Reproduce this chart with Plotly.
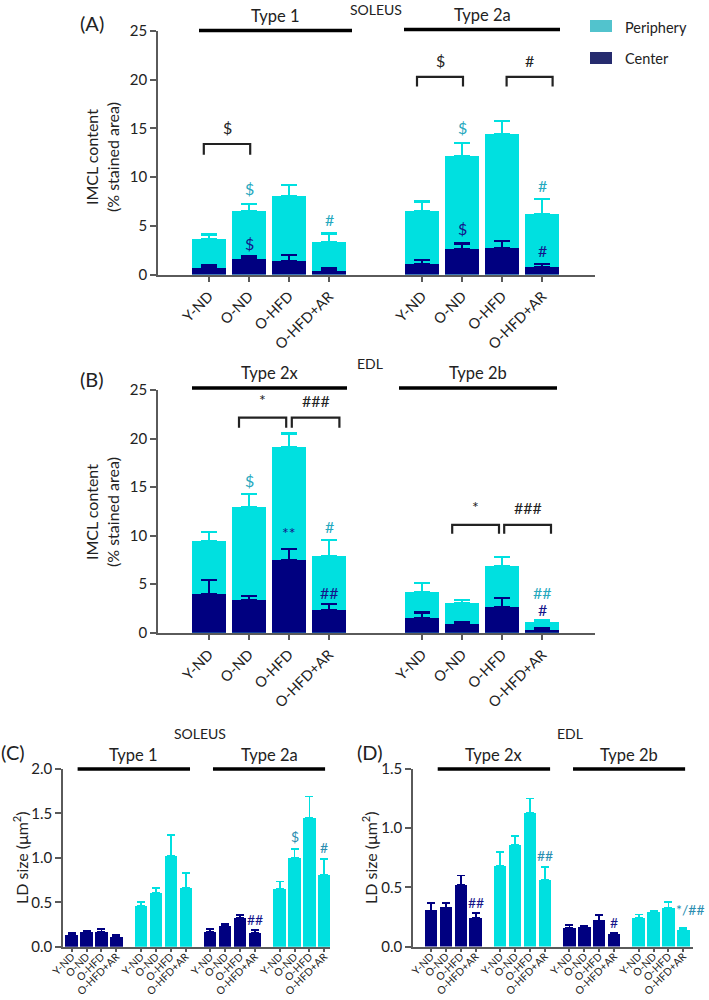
import plotly.graph_objects as go

W, H = 709, 1000
FONT = "Lato"
CYAN = "#00E0E0"
NAVY = "#000080"
CYAN_TXT = "#25A8BE"
NAVY_TXT = "#14148A"
CYAN_TXT2 = "#2A8DB0"
DARK = "#222222"
AXIS = "#5A5A5A"

labels = ["Y-ND", "O-ND", "O-HFD", "O-HFD+AR"]

# ---------- Panel A: SOLEUS IMCL content (% stained area) ----------
A_t1_periph = [3.6, 6.5, 8.05, 3.3]
A_t1_periph_err = [0.5, 0.7, 1.1, 0.9]
A_t1_center = [0.68, 1.58, 1.4, 0.41]
A_t1_center_err = [0.25, 0.27, 0.58, 0.23]
A_t2a_periph = [6.5, 12.2, 14.4, 6.23]
A_t2a_periph_err = [1.0, 1.3, 1.4, 1.55]
A_t2a_center = [1.1, 2.64, 2.74, 0.75]
A_t2a_center_err = [0.4, 0.54, 0.72, 0.35]

# ---------- Panel B: EDL IMCL content ----------
B_t2x_periph = [9.44, 12.9, 19.16, 7.9]
B_t2x_periph_err = [0.96, 1.4, 1.35, 1.65]
B_t2x_center = [4.02, 3.33, 7.49, 2.37]
B_t2x_center_err = [1.41, 0.48, 1.13, 0.58]
B_t2b_periph = [4.19, 3.06, 6.83, 1.06]
B_t2b_periph_err = [0.89, 0.31, 0.97, 0.28]
B_t2b_center = [1.51, 0.89, 2.64, 0.31]
B_t2b_center_err = [0.58, 0.21, 0.9, 0.21]

# ---------- Panel C: SOLEUS LD size (um^2) ----------
C_t1_center = [0.128, 0.161, 0.165, 0.109]
C_t1_center_err = [0.022, 0.015, 0.035, 0.022]
C_t1_periph = [0.46, 0.6, 1.02, 0.66]
C_t1_periph_err = [0.04, 0.06, 0.24, 0.17]
C_t2a_center = [0.165, 0.233, 0.32, 0.15]
C_t2a_center_err = [0.035, 0.027, 0.036, 0.038]
C_t2a_periph = [0.65, 1.0, 1.45, 0.81]
C_t2a_periph_err = [0.085, 0.1, 0.24, 0.18]

# ---------- Panel D: EDL LD size (um^2) ----------
D_t2x_center = [0.305, 0.33, 0.52, 0.243]
D_t2x_center_err = [0.065, 0.04, 0.08, 0.037]
D_t2x_periph = [0.68, 0.86, 1.13, 0.56]
D_t2x_periph_err = [0.12, 0.075, 0.12, 0.11]
D_t2b_center = [0.158, 0.161, 0.22, 0.102]
D_t2b_center_err = [0.026, 0.011, 0.045, 0.011]
D_t2b_periph = [0.243, 0.29, 0.328, 0.141]
D_t2b_periph_err = [0.027, 0.015, 0.05, 0.014]

# ---------- layout geometry (pixels) ----------
P = {
    "A": dict(ax="", px=(158, 595), py=(31, 274.5), xr=(-1.275, 9.65), yr=(0, 25)),
    "B": dict(ax="2", px=(158, 595), py=(390, 632.7), xr=(-1.275, 9.65), yr=(0, 25)),
    "C": dict(ax="3", px=(63, 330), py=(769, 946.7), xr=(-0.58, 17.33), yr=(0, 2.0)),
    "D": dict(ax="4", px=(413, 693), py=(769, 946.5), xr=(-1.21, 17.6), yr=(0, 1.5)),
}


def to_paper(panel, x, y):
    g = P[panel]
    (x0, x1), (y0, y1) = g["px"], g["py"]
    (a, b), (c, d) = g["xr"], g["yr"]
    pxv = x0 + (x - a) / (b - a) * (x1 - x0)
    pyv = y1 - (y - c) / (d - c) * (y1 - y0)
    return pxv / W, 1 - pyv / H


def pp(px, py):
    return px / W, 1 - py / H


fig = go.Figure()
shapes = []
annos = []


def err(arr, col, w, th):
    return dict(type="data", array=arr, arrayminus=[0] * len(arr), symmetric=False,
                color=col, thickness=th, width=w, visible=True)


def add_bars(panel, xs, ys, es, col, bw, w, th):
    ax = P[panel]["ax"]
    fig.add_trace(go.Bar(x=xs, y=ys, width=bw, marker=dict(color=col, line=dict(width=0)),
                         error_y=err(es, col, w, th), xaxis="x" + ax, yaxis="y" + ax,
                         showlegend=False, hoverinfo="skip"))


# Panels A & B: overlaid bars (periphery behind, center in front)
AB_off = [0, 5.33]
posAB = [[o + i for i in range(4)] for o in AB_off]
for panel, groups in [("A", [(A_t1_periph, A_t1_periph_err, A_t1_center, A_t1_center_err),
                             (A_t2a_periph, A_t2a_periph_err, A_t2a_center, A_t2a_center_err)]),
                      ("B", [(B_t2x_periph, B_t2x_periph_err, B_t2x_center, B_t2x_center_err),
                             (B_t2b_periph, B_t2b_periph_err, B_t2b_center, B_t2b_center_err)])]:
    for gi, (pv, pe, cv, ce) in enumerate(groups):
        add_bars(panel, posAB[gi], pv, pe, CYAN, 0.86, 8, 2.2)
        add_bars(panel, posAB[gi], cv, ce, NAVY, 0.86, 8, 2.2)

# Panels C & D: separate bars
CD_off = [0, 4.65, 9.3, 13.95]
posCD = [[o + i for i in range(4)] for o in CD_off]
for panel, groups in [("C", [(C_t1_center, C_t1_center_err, NAVY), (C_t1_periph, C_t1_periph_err, CYAN),
                             (C_t2a_center, C_t2a_center_err, NAVY), (C_t2a_periph, C_t2a_periph_err, CYAN)]),
                      ("D", [(D_t2x_center, D_t2x_center_err, NAVY), (D_t2x_periph, D_t2x_periph_err, CYAN),
                             (D_t2b_center, D_t2b_center_err, NAVY), (D_t2b_periph, D_t2b_periph_err, CYAN)])]:
    for gi, (v, e, col) in enumerate(groups):
        add_bars(panel, posCD[gi], v, e, col, 0.83, 4, 1.8)

# ---------- axes ----------
layout_axes = {}
for panel, g in P.items():
    ax = g["ax"]
    xname = "xaxis" + ax
    yname = "yaxis" + ax
    if panel in ("A", "B"):
        tv = posAB[0] + posAB[1]
        tt = labels * 2
        tfs = 14.5
        yt = dict(tickvals=[0, 5, 10, 15, 20, 25], tickformat="d")
        yfs = 15
        tl, so = 6, 0
    else:
        tv = sum(posCD, [])
        tt = labels * 4
        tfs = 10.5
        yfs = 15
        tl, so = 4, -6
        if panel == "C":
            yt = dict(tickvals=[0, 0.5, 1.0, 1.5, 2.0], tickformat=".1f")
        else:
            yt = dict(tickvals=[0, 0.5, 1.0, 1.5], tickformat=".1f")
    layout_axes[xname] = dict(domain=[g["px"][0] / W, g["px"][1] / W], range=list(g["xr"]),
                              anchor="y" + ax, tickvals=tv, ticktext=tt, tickangle=-45,
                              ticks="outside", ticklen=tl, tickwidth=1.5, tickcolor=AXIS,
                              ticklabelstandoff=so, automargin=False,
                              showline=True, linecolor=AXIS, linewidth=1.5, showgrid=False,
                              zeroline=False, fixedrange=True,
                              tickfont=dict(family=FONT, size=tfs, color=DARK))
    layout_axes[yname] = dict(domain=[1 - g["py"][1] / H, 1 - g["py"][0] / H], range=list(g["yr"]),
                              anchor="x" + ax, ticks="outside", ticklen=6, tickwidth=1.5,
                              tickcolor=AXIS, showline=True, linecolor=AXIS, linewidth=1.5,
                              showgrid=False, zeroline=False, fixedrange=True, automargin=False,
                              tickfont=dict(family=FONT, size=yfs, color=DARK), **yt)


# ---------- decorations ----------
def text(x, y, s, size=14, color=DARK, angle=0, xanchor="center", yanchor="middle"):
    annos.append(dict(x=x, y=y, xref="paper", yref="paper", text=s, showarrow=False,
                      font=dict(family=FONT, size=size, color=color), textangle=angle,
                      xanchor=xanchor, yanchor=yanchor))


def dtext(panel, x, y, s, size=16, color=DARK):
    ax = P[panel]["ax"]
    annos.append(dict(x=x, y=y, xref="x" + ax, yref="y" + ax, text=s, showarrow=False,
                      font=dict(family=FONT, size=size, color=color), yanchor="bottom"))


def group_line(panel, x0, x1, y_px, label, label_py, size=16.5):
    px0, _ = to_paper(panel, x0, 0)
    px1, _ = to_paper(panel, x1, 0)
    _, yy = pp(0, y_px)
    shapes.append(dict(type="line", xref="paper", yref="paper", x0=px0, x1=px1, y0=yy, y1=yy,
                       line=dict(color="#000000", width=3.5)))
    text((px0 + px1) / 2, pp(0, label_py)[1], label, size=size, color=DARK)


def bracket(panel, x0, x1, ytop, yleg, label, lab_y, size=16):
    ax = P[panel]["ax"]
    shapes.append(dict(type="path", xref="x" + ax, yref="y" + ax,
                       path=f"M {x0},{yleg} L {x0},{ytop} L {x1},{ytop} L {x1},{yleg}",
                       line=dict(color=DARK, width=2.2)))
    dtext(panel, (x0 + x1) / 2, lab_y, label, size=size, color=DARK)


# Panel A
text(*pp(92, 23), "(A)", size=20)
text(*pp(376, 9), "SOLEUS", size=14)
group_line("A", -0.25, 3.575, 30.5, "Type 1", 16)
group_line("A", 4.875, 8.775, 29.5, "Type 2a", 15)
text(*pp(102, 157), "IMCL content<br>(% stained area)", size=16, angle=-90)
bracket("A", -0.13, 1.03, 13.4, 12.3, "$", 13.9)
bracket("A", 5.20, 6.35, 20.3, 19.3, "$", 20.8)
bracket("A", 7.44, 8.59, 20.3, 19.3, "#", 20.8)
dtext("A", 1, 7.6, "$", color=CYAN_TXT)
dtext("A", 1, 2.0, "$", color=NAVY_TXT)
dtext("A", 3, 4.5, "#", color=CYAN_TXT)
dtext("A", 6.33, 13.9, "$", color=CYAN_TXT)
dtext("A", 6.33, 3.5, "$", color=NAVY_TXT)
dtext("A", 8.33, 8.0, "#", color=CYAN_TXT)
dtext("A", 8.33, 1.3, "#", color=NAVY_TXT)

# Legend (manual)
shapes.append(dict(type="rect", xref="paper", yref="paper",
                   x0=pp(590, 0)[0], x1=pp(612, 0)[0], y0=pp(0, 32)[1], y1=pp(0, 20)[1],
                   fillcolor="#52C3CD", line=dict(width=0)))
shapes.append(dict(type="rect", xref="paper", yref="paper",
                   x0=pp(590, 0)[0], x1=pp(612, 0)[0], y0=pp(0, 64)[1], y1=pp(0, 52)[1],
                   fillcolor="#262B6E", line=dict(width=0)))
text(*pp(623, 27), "Periphery", size=14.5, xanchor="left")
text(*pp(623, 59), "Center", size=14.5, xanchor="left")

# Panel B
text(*pp(92, 379), "(B)", size=20)
text(*pp(370, 363), "EDL", size=14)
group_line("B", -0.425, 3.45, 388, "Type 2x", 373)
group_line("B", 4.75, 8.7, 388, "Type 2b", 373)
text(*pp(102, 512), "IMCL content<br>(% stained area)", size=16, angle=-90)
bracket("B", 0.75, 1.93, 22.15, 21.1, "*", 22.8)
bracket("B", 2.07, 3.26, 22.15, 21.1, "###", 22.7)
bracket("B", 6.08, 7.25, 11.1, 10.2, "*", 11.8)
bracket("B", 7.38, 8.55, 11.1, 10.2, "###", 11.7)
dtext("B", 1, 14.5, "$", color=CYAN_TXT)
dtext("B", 2, 9.1, "**", color=NAVY_TXT)
dtext("B", 3, 9.8, "#", color=CYAN_TXT)
dtext("B", 3, 3.0, "##", color=NAVY_TXT)
dtext("B", 8.33, 3.0, "##", color=CYAN_TXT)
dtext("B", 8.33, 1.2, "#", color=NAVY_TXT)

# Panel C
text(*pp(13, 752), "(C)", size=20)
text(*pp(200, 733), "SOLEUS", size=14)
group_line("C", 0.4, 7.94, 769, "Type 1", 755)
group_line("C", 9.48, 17.0, 769, "Type 2a", 755)
text(*pp(20, 858), "LD size (μm<sup>2</sup>)", size=16, angle=-90)
dtext("C", 12.3, 0.19, "##", size=14, color=NAVY_TXT)
dtext("C", 14.95, 1.12, "$", size=14, color=CYAN_TXT2)
dtext("C", 16.95, 1.0, "#", size=14, color=CYAN_TXT2)

# Panel D
text(*pp(370, 752), "(D)", size=20)
text(*pp(570, 733), "EDL", size=14)
group_line("D", 0.45, 8.0, 769, "Type 2x", 755)
group_line("D", 9.54, 17.07, 769, "Type 2b", 755)
text(*pp(369, 858), "LD size (μm<sup>2</sup>)", size=16, angle=-90)
dtext("D", 3, 0.28, "##", size=14, color=NAVY_TXT)
dtext("D", 7.65, 0.68, "##", size=14, color=CYAN_TXT2)
dtext("D", 12.3, 0.115, "#", size=14, color=NAVY_TXT)
text(*pp(707, 909), "*/##", size=14, color=CYAN_TXT2, xanchor="right")

fig.update_layout(width=W, height=H, margin=dict(l=0, r=0, t=0, b=0, autoexpand=False),
                  plot_bgcolor="white", paper_bgcolor="white", barmode="overlay",
                  bargap=0, showlegend=False, shapes=shapes, annotations=annos,
                  font=dict(family=FONT, color=DARK), **layout_axes)

fig.write_html("out.html", config={"displayModeBar": False},
               post_script="document.body.style.margin='0';document.body.style.padding='0';"
                           "document.body.style.overflow='hidden';")
